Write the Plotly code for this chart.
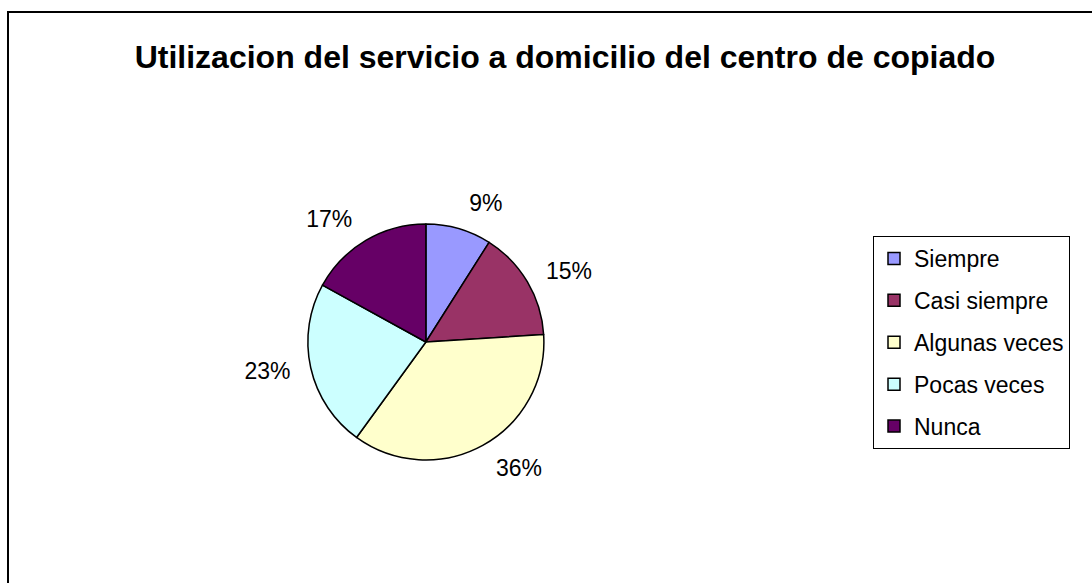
import plotly.graph_objects as go

# Survey answers and their shares (%)
categories = ["Siempre", "Casi siempre", "Algunas veces", "Pocas veces", "Nunca"]
shares = [9, 15, 36, 23, 17]
slice_colors = ["#9999FF", "#993366", "#FFFFCC", "#CCFFFF", "#660066"]
title_text = "Utilizacion del servicio a domicilio del centro de copiado"

W, H = 1092, 583
FONT = "Liberation Sans, Arial, sans-serif"
CX, CY, R = 426, 342, 118      # pie centre and radius, px
LABEL_GAP = 14                 # extra distance of the percent labels, px

fig = go.Figure()

# Invisible ring slightly larger than the pie: carries the percent labels
fig.add_trace(go.Pie(
    labels=categories,
    values=shares,
    sort=False,
    direction="clockwise",
    rotation=0,
    marker=dict(colors=["rgba(0,0,0,0)"] * len(shares), line=dict(width=0)),
    texttemplate="%{percent:.0%}",
    textposition="outside",
    textfont=dict(family=FONT, size=23, color="black"),
    showlegend=False,
    hoverinfo="skip",
    domain=dict(x=[0.15, 0.63],
                y=[1 - (CY + R + LABEL_GAP) / H, 1 - (CY - R - LABEL_GAP) / H]),
))

# The pie itself
fig.add_trace(go.Pie(
    labels=categories,
    values=shares,
    sort=False,
    direction="clockwise",
    rotation=0,
    marker=dict(colors=slice_colors, line=dict(color="black", width=1.5)),
    textinfo="none",
    showlegend=False,
    hoverinfo="label+percent",
    domain=dict(x=[0.20, 0.58], y=[1 - (CY + R) / H, 1 - (CY - R) / H]),
))

# Legend entries: one square-marker entry per category
for name, col in zip(categories, slice_colors):
    fig.add_trace(go.Scatter(
        x=[None], y=[None], mode="markers", name=name, legendgroup=name,
        marker=dict(symbol="square", size=12, color=col,
                    line=dict(color="black", width=1.5)),
    ))

# Chart frame
fig.add_shape(type="rect", xref="paper", yref="paper",
              x0=8 / W, x1=1.02, y0=-0.02, y1=1 - 12 / H,
              line=dict(color="black", width=2), fillcolor="rgba(0,0,0,0)")

fig.update_layout(
    width=W, height=H,
    margin=dict(l=0, r=0, t=0, b=0, autoexpand=False),
    paper_bgcolor="white", plot_bgcolor="white",
    xaxis=dict(visible=False), yaxis=dict(visible=False),
    title=dict(text="<b>" + title_text + "</b>", x=565 / W, xanchor="center",
               y=1 - 57 / H, yanchor="middle",
               font=dict(family=FONT, size=32, color="black")),
    legend=dict(x=873 / W, xanchor="left", y=1 - 236 / H, yanchor="top",
                bordercolor="black", borderwidth=1, bgcolor="white",
                font=dict(family=FONT, size=23, color="black"),
                tracegroupgap=9, itemclick=False, itemdoubleclick=False),
)

fig.write_html("out.html")
